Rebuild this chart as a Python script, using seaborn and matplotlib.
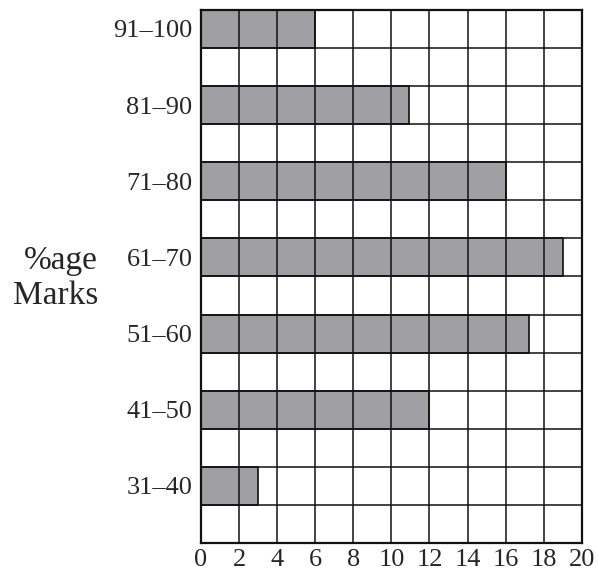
import matplotlib
matplotlib.use("Agg")
import matplotlib.pyplot as plt
import seaborn as sns
import pandas as pd
import numpy as np

# Score bands and number of students in each
bands = ["31–40", "41–50", "51–60", "61–70", "71–80", "81–90", "91–100"]
students = [3, 12, 17.2, 19, 16, 10.9, 6]
x_ticks = list(range(0, 21, 2))

sns.set_theme(style="white")
plt.rcParams["font.family"] = ["Liberation Serif", "DejaVu Serif"]

# Each band sits on every other grid row, leaving a blank row below it
rows = np.arange(len(bands)) * 2 + 1.5
df = pd.DataFrame({"row": rows, "students": students})

fig = plt.figure(figsize=(5.98, 5.72), dpi=100)
ax = fig.add_axes([0.336, 0.0507, 0.637, 0.932])

sns.barplot(data=df, x="students", y="row", orient="y", native_scale=True,
            width=0.5, color="#a0a0a4", saturation=1, edgecolor="#111111",
            linewidth=1.2, ax=ax)

ax.set_xlim(0, 20)
ax.set_ylim(0, 14)
ax.set_xticks(x_ticks)
ax.set_xticklabels([str(t) for t in x_ticks], fontsize=19)
ax.set_yticks(rows)
ax.set_yticklabels(bands, fontsize=19)
ax.set_yticks(np.arange(0, 15), minor=True)
ax.tick_params(axis="y", which="both", length=0, pad=6)
ax.tick_params(axis="x", which="both", length=0, pad=4.5)
ax.set_axisbelow(False)
ax.grid(True, which="major", axis="x", color="#111111", linewidth=1.1)
ax.grid(True, which="minor", axis="y", color="#111111", linewidth=1.1)
ax.set_xlabel("")
ax.set_ylabel("")
for s in ax.spines.values():
    s.set_visible(True)
    s.set_color("#111111")
    s.set_linewidth(1.6)

fig.text(0.164, 0.514, "%age\nMarks", ha="right", va="center", fontsize=24,
         multialignment="right", linespacing=1.2)

fig.savefig("out.png", dpi=100, facecolor="white")
